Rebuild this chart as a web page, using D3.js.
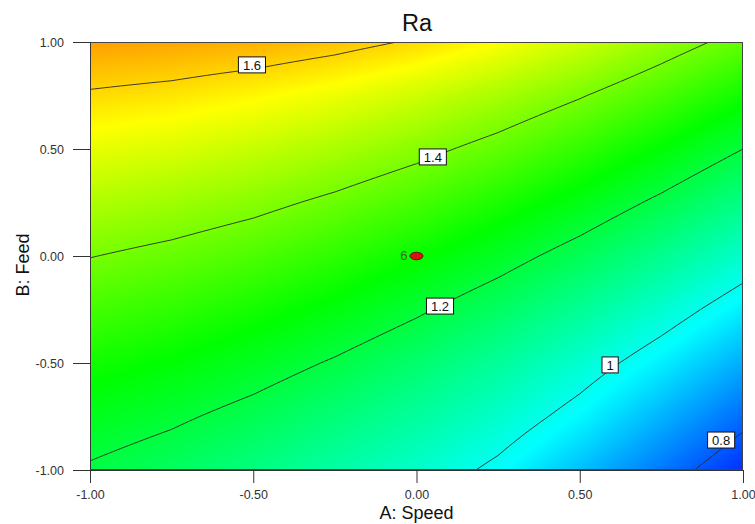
<!DOCTYPE html>
<html>
<head>
<meta charset="utf-8">
<script src="https://cdn.jsdelivr.net/npm/d3@7"></script>
<style>
    body { margin: 0; background: #fff; }
    text { font-family: "Liberation Sans", Arial, sans-serif; }
    .axis text { font-size: 12.5px; fill: #333; }
    .axis line, .axis path { stroke: #333; }
</style>
</head>
<body>
<svg id="chart" width="755" height="524"></svg>
<script>
// coded factor levels of the grid (A: Speed across, B: Feed from top to bottom)
let speedLevels = [-1, -0.75, -0.5, -0.25, 0, 0.25, 0.5, 0.75, 1];
let feedLevels = [1, 0.75, 0.5, 0.25, 0, -0.25, -0.5, -0.75, -1];
// Ra, one row per feed level
let raGrid = [
    [1.662, 1.655, 1.643, 1.622, 1.593, 1.548, 1.495, 1.435, 1.375],
    [1.592, 1.579, 1.558, 1.531, 1.496, 1.454, 1.405, 1.349, 1.286],
    [1.525, 1.510, 1.487, 1.457, 1.420, 1.376, 1.324, 1.266, 1.200],
    [1.462, 1.444, 1.419, 1.386, 1.347, 1.300, 1.247, 1.186, 1.118],
    [1.402, 1.381, 1.354, 1.319, 1.277, 1.228, 1.172, 1.109, 1.039],
    [1.344, 1.322, 1.292, 1.255, 1.210, 1.159, 1.101, 1.035, 0.962],
    [1.290, 1.265, 1.233, 1.193, 1.147, 1.095, 1.034, 0.964, 0.889],
    [1.239, 1.212, 1.177, 1.135, 1.092, 1.040, 0.975, 0.897, 0.819],
    [1.192, 1.162, 1.125, 1.082, 1.040, 0.985, 0.910, 0.832, 0.753]
];
let contourLevels = [0.8, 1.0, 1.2, 1.4, 1.6];
let contourLabels = ["0.8", "1", "1.2", "1.4", "1.6"];
let labelSpeed = [0.933, 0.593, 0.072, 0.050, -0.504];
let labelFeed = [-0.860, -0.509, -0.234, 0.463, 0.893];
let pointSpeed = [0];
let pointFeed = [0];
let pointRuns = ["6"];
let tickValues = [-1, -0.5, 0, 0.5, 1];

let svg = d3.select("#chart");
let plotL = 90, plotR = 743, plotT = 42, plotB = 470;

let x = d3.scaleLinear().domain([-1, 1]).range([plotL, plotR]);
let y = d3.scaleLinear().domain([-1, 1]).range([plotB, plotT]);

// Design-Expert style colour ramp
let color = d3.scaleLinear()
    .domain([0.70, 0.98, 1.27, 1.55, 1.85])
    .range(["#0000ff", "#00ffff", "#00ff00", "#ffff00", "#ff0000"])
    .clamp(true);

// refine the read grid for drawing (bilinear)
let k = 8;
let nIn = speedLevels.length;
let n = (nIn - 1) * k + 1;
let fine = new Array(n * n);
for (let j = 0; j < n; j++) {
    for (let i = 0; i < n; i++) {
        let gx = i / k, gy = j / k;
        let i0 = Math.min(Math.floor(gx), nIn - 2), j0 = Math.min(Math.floor(gy), nIn - 2);
        let tx = gx - i0, ty = gy - j0;
        let v = raGrid[j0][i0] * (1 - tx) * (1 - ty) + raGrid[j0][i0 + 1] * tx * (1 - ty)
              + raGrid[j0 + 1][i0] * (1 - tx) * ty + raGrid[j0 + 1][i0 + 1] * tx * ty;
        fine[j * n + i] = v;
    }
}
let step = 2 / (n - 1);
let path = d3.geoPath(d3.geoTransform({
    point: function(px, py) {
        this.stream.point(x(-1 + (px - 0.5) * step), y(1 - (py - 0.5) * step));
    }
}));

svg.append("defs").append("clipPath").attr("id", "plotClip")
    .append("rect")
    .attr("x", plotL).attr("y", plotT)
    .attr("width", plotR - plotL).attr("height", plotB - plotT);

let plot = svg.append("g").attr("clip-path", "url(#plotClip)");

let fillStep = 0.004;
let fillLevels = d3.range(0.60, 1.80, fillStep);
plot.append("rect")
    .attr("x", plotL).attr("y", plotT)
    .attr("width", plotR - plotL).attr("height", plotB - plotT)
    .attr("fill", color(d3.min(fine)));
plot.selectAll("path.band")
    .data(d3.contours().size([n, n]).thresholds(fillLevels)(fine))
    .enter().append("path")
    .attr("class", "band")
    .attr("d", path)
    .attr("fill", d => color(d.value + fillStep / 2));

plot.selectAll("path.iso")
    .data(d3.contours().size([n, n]).thresholds(contourLevels)(fine))
    .enter().append("path")
    .attr("class", "iso")
    .attr("d", path)
    .attr("fill", "none")
    .attr("stroke", "#2a2a2a")
    .attr("stroke-width", 0.9);

// frame
svg.append("rect")
    .attr("x", plotL + 0.5).attr("y", plotT + 0.5)
    .attr("width", plotR - plotL - 1).attr("height", plotB - plotT - 1)
    .attr("fill", "none").attr("stroke", "#444").attr("stroke-width", 1);

// contour labels
let labels = svg.append("g");
contourLabels.forEach((t, i) => {
    let g = labels.append("g")
        .attr("transform", `translate(${x(labelSpeed[i])},${y(labelFeed[i])})`);
    let txt = g.append("text")
        .attr("text-anchor", "middle")
        .attr("dy", "0.36em")
        .style("font-size", "13px")
        .attr("fill", "#111")
        .text(t);
    let w = txt.node().getComputedTextLength() + 9;
    g.insert("rect", "text")
        .attr("x", -w / 2).attr("y", -8)
        .attr("width", w).attr("height", 16)
        .attr("fill", "#fff").attr("stroke", "#111").attr("stroke-width", 1);
});

// design point
pointSpeed.forEach((s, i) => {
    svg.append("ellipse")
        .attr("cx", x(s)).attr("cy", y(pointFeed[i]))
        .attr("rx", 6.5).attr("ry", 3.8)
        .attr("fill", "#e01010").attr("stroke", "#500").attr("stroke-width", 0.8);
    svg.append("text")
        .attr("x", x(s) - 9).attr("y", y(pointFeed[i]))
        .attr("dy", "0.3em")
        .attr("text-anchor", "end")
        .style("font-size", "13px")
        .attr("fill", "#2b6e2b")
        .text(pointRuns[i]);
});

// axes (plain hyphen for negatives, like the original)
let fmt = d => d3.format(".2f")(d).replace("\u2212", "-");
svg.append("g")
    .attr("class", "axis")
    .attr("transform", `translate(0,${plotB})`)
    .call(d3.axisBottom(x).tickValues(tickValues).tickFormat(fmt)
        .tickSize(13).tickSizeOuter(0).tickPadding(7));
svg.append("g")
    .attr("class", "axis")
    .attr("transform", `translate(${plotL},0)`)
    .call(d3.axisLeft(y).tickValues(tickValues).tickFormat(fmt)
        .tickSize(17).tickSizeOuter(0).tickPadding(9));

// titles
svg.append("text")
    .attr("x", 417).attr("y", 31)
    .attr("text-anchor", "middle")
    .style("font-size", "23.5px")
    .attr("fill", "#111")
    .text("Ra");
svg.append("text")
    .attr("x", x(0)).attr("y", 519)
    .attr("text-anchor", "middle")
    .style("font-size", "18px")
    .attr("fill", "#111")
    .text("A: Speed");
svg.append("text")
    .attr("transform", `translate(29,${y(0) + 9}) rotate(-90)`)
    .attr("text-anchor", "middle")
    .style("font-size", "18px")
    .attr("fill", "#111")
    .text("B: Feed");
</script>
</body>
</html>
